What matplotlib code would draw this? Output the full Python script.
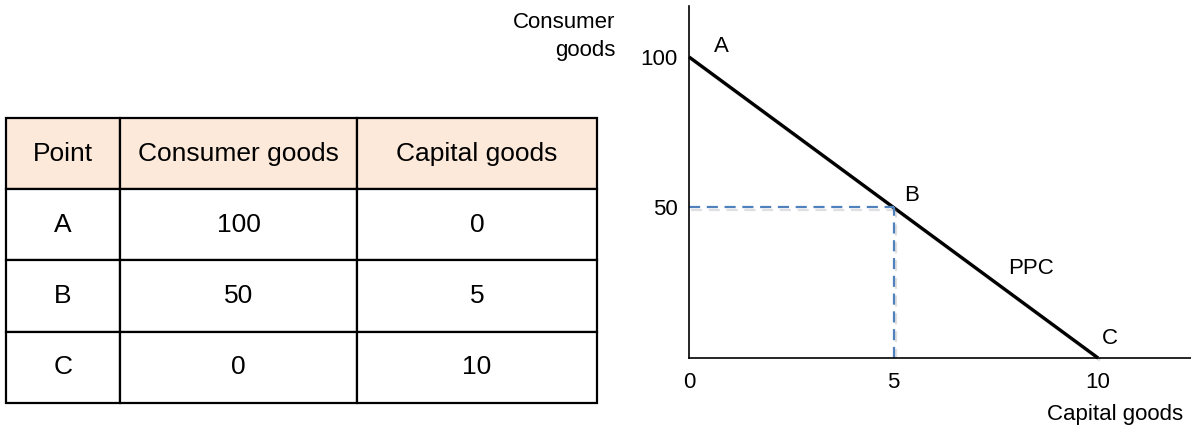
import matplotlib.pyplot as plt
import matplotlib.patheffects as pe

plt.rcParams['font.family'] = ['Liberation Sans', 'DejaVu Sans']

# data
points = ['A', 'B', 'C']
consumer_goods = [100, 50, 0]
capital_goods = [0, 5, 10]
col_labels = ['Point', 'Consumer goods', 'Capital goods']

fig = plt.figure(figsize=(11.91, 4.30), dpi=100)

# ---- table on the left
tax = fig.add_axes([0.005, 0.0628, 0.4962, 0.6628])
tax.axis('off')
cells = [[p, str(c), str(k)] for p, c, k in zip(points, consumer_goods, capital_goods)]
tbl = tax.table(cellText=cells, colLabels=col_labels, cellLoc='center',
                colWidths=[114, 237, 240], bbox=[0, 0, 1, 1])
tbl.auto_set_font_size(False)
for (r, c), cell in tbl.get_celld().items():
    cell.set_linewidth(1.6)
    cell.set_edgecolor('black')
    cell.get_text().set_fontsize(19)
    if r == 0:
        cell.set_facecolor('#FDE9D9')

# ---- PPC diagram on the right
ax = fig.add_axes([0.5785, 0.1674, 0.4215, 0.8186])
ax.set_xlim(0, 12.27)
ax.set_ylim(0, 116.9)
for s in ['top', 'right']:
    ax.spines[s].set_visible(False)
for s in ['left', 'bottom']:
    ax.spines[s].set_linewidth(1.2)

shadow = [pe.SimpleLineShadow(offset=(1.5, -1.5), shadow_color='gray', alpha=0.25), pe.Normal()]
ax.plot(capital_goods, consumer_goods, color='black', lw=2.4,
        solid_capstyle='butt', path_effects=shadow, clip_on=False)

bx, by = capital_goods[1], consumer_goods[1]
ax.plot([0, bx], [by, by], '--', color='#4F81BD', lw=1.6, dashes=(5, 3),
        path_effects=shadow)
ax.plot([bx, bx], [0, by], '--', color='#4F81BD', lw=1.6, dashes=(5, 3),
        path_effects=shadow)

ax.set_xticks(capital_goods)
ax.set_xticklabels([str(v) for v in capital_goods])
ax.set_yticks([100, 50])
ax.set_yticklabels(['100', '50'])
ax.tick_params(length=0, labelsize=16)
ax.tick_params(axis='x', pad=10)
ax.tick_params(axis='y', pad=8)

ax.text(capital_goods[0] + 0.6, consumer_goods[0] + 1.5, 'A', fontsize=16)
ax.text(bx + 0.25, by + 2, 'B', fontsize=16)
ax.text(capital_goods[2] + 0.1, consumer_goods[2] + 4.5, 'C', fontsize=16)
ax.text(7.8, 28, 'PPC', fontsize=16)

fig.text(0.517, 0.916, 'Consumer\ngoods', fontsize=16, ha='right', va='center',
         linespacing=1.45)
fig.text(0.993, 0.035, 'Capital goods', fontsize=16, ha='right', va='center')

fig.savefig('out.png', dpi=100)
